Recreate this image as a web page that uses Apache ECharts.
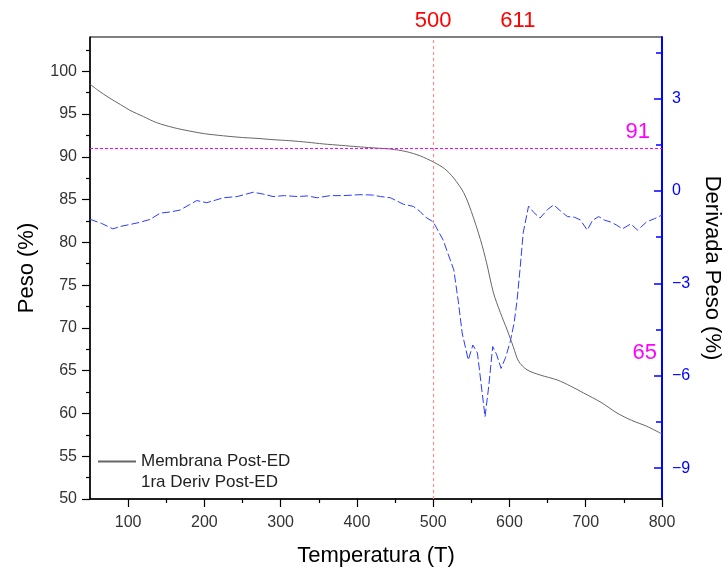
<!DOCTYPE html>
<html><head><meta charset="utf-8">
<script src="https://cdn.jsdelivr.net/npm/echarts@6/dist/echarts.min.js"></script>
<style>html,body{margin:0;padding:0;background:#fff}#c{width:725px;height:573px}</style>
</head><body><div id="c"></div>
<script>
// Weight curve (left axis)
const tempW = [50,60,75,90,102,120,137,160,181,200,225,250,269,290,312,335,356,380,400,420,444,465,483,500,515,527,540,550,562,570,579,588,597,605,612,623,640,663,680,697,720,741,760,780,800];
const peso  = [98.5,97.8,96.9,96.1,95.45,94.7,94.0,93.4,93.0,92.7,92.45,92.25,92.15,92.0,91.88,91.7,91.5,91.33,91.18,91.05,90.9,90.6,90.1,89.4,88.6,87.5,85.8,83.6,80.3,77.6,74.1,71.8,69.75,67.8,66.1,65.1,64.5,63.9,63.2,62.4,61.3,60.05,59.2,58.5,57.6];
// Derivative curve (right axis)
const tempD = [50,65,80,90,102,115,129,142,155,168,180,190,203,225,243,264,277,290,305,322,335,348,365,382,404,420,431,444,461,474,483,490,500,513,527,533,538,546,552,558,563,568,573,578,583,589,595,601,606,610,614,618,625,632,640,650,658,667,676,685,693,702,709,717,725,732,740,748,759,768,780,790,800];
const deriv = [-0.92,-1.05,-1.23,-1.15,-1.09,-1.02,-0.92,-0.72,-0.68,-0.62,-0.45,-0.31,-0.38,-0.22,-0.18,-0.04,-0.10,-0.18,-0.15,-0.18,-0.16,-0.22,-0.15,-0.15,-0.12,-0.13,-0.18,-0.22,-0.43,-0.5,-0.67,-0.85,-1.0,-1.59,-2.56,-3.6,-4.61,-5.49,-5.0,-5.26,-6.3,-7.33,-6.3,-5.05,-5.3,-5.76,-5.4,-4.89,-4.3,-3.54,-2.5,-1.36,-0.49,-0.7,-0.88,-0.6,-0.45,-0.65,-0.83,-0.85,-0.94,-1.27,-0.95,-0.83,-0.95,-1.0,-1.1,-1.23,-1.07,-1.27,-1.0,-0.9,-0.78];
// Ticks
const xTicks = [100,200,300,400,500,600,700,800];
const xMinor = [150,250,350,450,550,650,750];
const yLeftTicks = [50,55,60,65,70,75,80,85,90,95,100];
const yLeftMinor = [52.5,57.5,62.5,67.5,72.5,77.5,82.5,87.5,92.5,97.5,102.5];
const yRightTicks = [-9,-6,-3,0,3];
const yRightMinor = [-7.5,-4.5,-1.5,1.5,4.5];
// Annotations
const markTemps = [500, 611];
const markPesos = [91, 65];
const seriesNames = ['Membrana Post-ED', '1ra Deriv Post-ED'];

const FONT = 'Liberation Sans, Arial, sans-serif';
const chart = echarts.init(document.getElementById('c'), null, {renderer: 'canvas'});

const option = {
  animation: false,
  textStyle: {fontFamily: FONT},
  grid: {left: 90, right: 63, top: 37, bottom: 74, outerBoundsMode: 'none', containLabel: false,
    show: true, borderColor: '#000', borderWidth: 1, backgroundColor: 'transparent'},
  legend: {
    orient: 'vertical', left: 97, top: 453, padding: 0, itemGap: 4,
    itemWidth: 38, itemHeight: 10,
    textStyle: {fontSize: 17, color: '#222', fontFamily: FONT},
    data: [
      {name: seriesNames[0], itemStyle: {opacity: 0}},
      {name: seriesNames[1], lineStyle: {opacity: 0}, itemStyle: {opacity: 0}}
    ]
  },
  xAxis: [
    {
      type: 'value', min: 50, max: 800, position: 'bottom',
      name: 'Temperatura (T)', nameLocation: 'middle', nameGap: 46,
      nameTextStyle: {fontSize: 22, color: '#000', fontFamily: FONT},
      axisLine: {show: true, onZero: false, lineStyle: {color: '#000', width: 1.5}},
      axisTick: {show: true, customValues: xTicks, length: 8, lineStyle: {color: '#000', width: 1.2}},
      axisLabel: {customValues: xTicks, fontSize: 16, color: '#333', margin: 16, fontFamily: FONT},
      splitLine: {show: false}
    },
    {
      type: 'value', min: 50, max: 800, position: 'bottom',
      axisLine: {show: false, onZero: false},
      axisTick: {show: true, customValues: xMinor, length: 4, lineStyle: {color: '#000', width: 1.2}},
      axisLabel: {show: false}, splitLine: {show: false}
    }
  ],
  yAxis: [
    {
      type: 'value', min: 50, max: 104, position: 'left',
      name: 'Peso (%)', nameLocation: 'middle', nameRotate: 90, nameGap: 52,
      nameTextStyle: {fontSize: 22, color: '#000', fontFamily: FONT},
      axisLine: {show: true, onZero: false, lineStyle: {color: '#000', width: 1.5}},
      axisTick: {show: true, customValues: yLeftTicks, length: 8, lineStyle: {color: '#000', width: 1.2}},
      axisLabel: {customValues: yLeftTicks, fontSize: 16, color: '#333', margin: 13, fontFamily: FONT},
      splitLine: {show: false}
    },
    {
      type: 'value', min: -10, max: 5, position: 'right',
      name: 'Derivada Peso (%)', nameLocation: 'middle', nameRotate: -90, nameGap: 36,
      nameTextStyle: {fontSize: 22, color: '#000', fontFamily: FONT},
      axisLine: {show: true, onZero: false, lineStyle: {color: '#0000ff', width: 2}},
      axisTick: {show: true, inside: true, customValues: yRightTicks, length: 8, lineStyle: {color: '#0000ff', width: 1.5}},
      axisLabel: {customValues: yRightTicks, fontSize: 16, color: '#0000ff', margin: 10, fontFamily: FONT,
        formatter: v => (v < 0 ? '\u2212' + Math.abs(v) : String(v))},
      splitLine: {show: false}
    },
    {
      type: 'value', min: 50, max: 104, position: 'left',
      axisLine: {show: false, onZero: false},
      axisTick: {show: true, customValues: yLeftMinor, length: 4, lineStyle: {color: '#000', width: 1.2}},
      axisLabel: {show: false}, splitLine: {show: false}
    },
    {
      type: 'value', min: -10, max: 5, position: 'right',
      axisLine: {show: false, onZero: false},
      axisTick: {show: true, inside: true, customValues: yRightMinor, length: 6, lineStyle: {color: '#0000ff', width: 1.5}},
      axisLabel: {show: false}, splitLine: {show: false}
    }
  ],
  series: [
    {
      name: seriesNames[0], type: 'line', xAxisIndex: 0, yAxisIndex: 0,
      data: tempW.map((t, i) => [t, peso[i]]),
      symbol: 'none', smooth: 0.3,
      lineStyle: {color: '#666', width: 1}, itemStyle: {color: '#666'},
      z: 3,
      markLine: {
        silent: true, symbol: ['none', 'none'], animation: false,
        emphasis: {disabled: true},
        data: [
          {xAxis: markTemps[0], lineStyle: {color: '#ff8c8c', type: [3, 3], width: 1.2},
            itemStyle: {color: '#ff8c8c'},
            label: {show: true, position: 'end', distance: 5, formatter: String(markTemps[0]), color: '#ff0000', fontSize: 22, fontFamily: FONT}},
          {xAxis: markTemps[1], lineStyle: {color: 'rgba(0,0,0,0)', width: 0},
            label: {show: true, position: 'end', distance: 5, formatter: String(markTemps[1]), color: '#ff0000', fontSize: 22, fontFamily: FONT}},
          {yAxis: markPesos[0], lineStyle: {color: '#ff00ff', type: [3, 2], width: 1},
            label: {show: true, position: 'insideEndTop', distance: [12, 5], formatter: String(markPesos[0]), color: '#ff00ff', fontSize: 22, fontFamily: FONT}},
          {yAxis: markPesos[1], lineStyle: {color: 'rgba(0,0,0,0)', width: 0},
            label: {show: true, position: 'insideEndTop', distance: [5, 7], formatter: String(markPesos[1]), color: '#ff00ff', fontSize: 22, fontFamily: FONT}}
        ]
      }
    },
    {
      name: seriesNames[1], type: 'line', xAxisIndex: 0, yAxisIndex: 1,
      data: tempD.map((t, i) => [t, deriv[i]]),
      symbol: 'none',
      lineStyle: {color: '#2b3bff', width: 1, type: [8, 3]}, itemStyle: {color: '#2b3bff'},
      z: 2
    }
  ]
};
chart.setOption(option);
</script>
</body></html>
